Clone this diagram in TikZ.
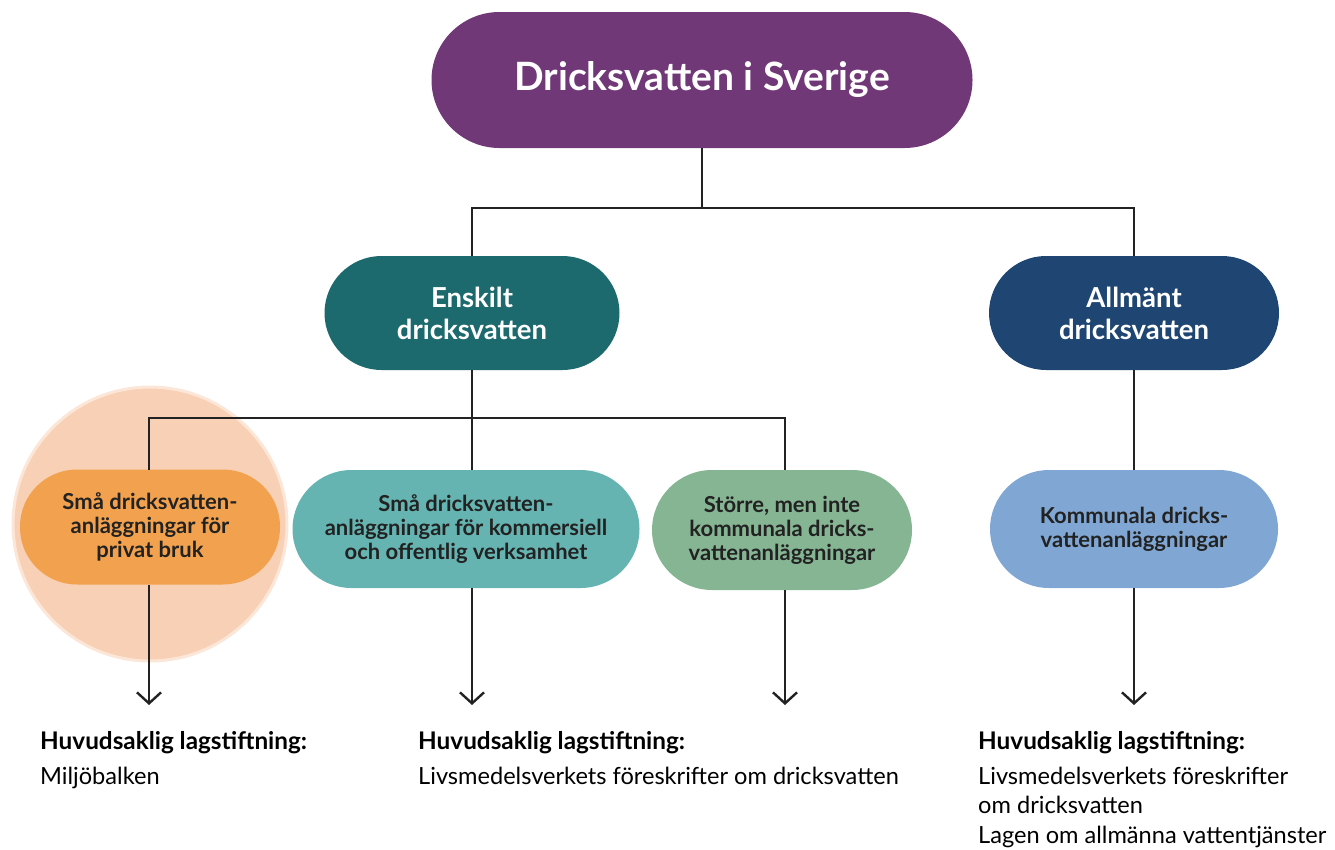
\documentclass[tikz,border=0pt]{standalone}
\usepackage{fontspec}
\setmainfont{Lato}
\usetikzlibrary{arrows.meta}
\definecolor{cTop}{HTML}{713878}
\definecolor{cEnsk}{HTML}{1D6A6E}
\definecolor{cAllm}{HTML}{1F4672}
\definecolor{cOrange}{HTML}{F2A24E}
\definecolor{cTeal}{HTML}{65B4B1}
\definecolor{cGreen}{HTML}{86B594}
\definecolor{cBlue}{HTML}{80A7D4}
\definecolor{cPeach}{HTML}{F8D0B5}
\definecolor{cPeachRim}{HTML}{FCE6D8}
\definecolor{cLine}{HTML}{222222}
\tikzset{
  x=1pt, y=-1pt,
  pill/.style={rectangle, rounded corners=#1, draw=none, align=center, inner sep=0pt},
  darktext/.style={text=cLine, font=\bfseries\fontsize{22}{24}\selectfont},
  conn/.style={draw=cLine, line width=2.4pt},
  arr/.style={conn, -{Straight Barb[length=11pt,width=24pt,line width=2.4pt]}},
  lawhead/.style={anchor=base west, text=black, font=\bfseries\fontsize{24.3}{26}\selectfont, inner sep=0pt},
  lawtext/.style={anchor=base west, text=black, font=\fontsize{23.6}{26}\selectfont, inner sep=0pt, align=left},
}
\begin{document}
\begin{tikzpicture}
\useasboundingbox (0,0) rectangle (1335,849);
% highlight circle
\fill[cPeach, draw=cPeachRim, line width=3pt] (150,524) circle (137);
% nodes
\node[pill=68pt, fill=cTop, minimum width=541pt, minimum height=136pt, text=white, font=\bfseries\fontsize{39}{42}\selectfont] (top) at (702,80) {Dricksvatten i Sverige};
\node[pill=57pt, fill=cEnsk, minimum width=295pt, minimum height=114pt, text=white, font=\bfseries\fontsize{27.5}{32}\selectfont] (ensk) at (472,313) {Enskilt\\dricksvatten};
\node[pill=57pt, fill=cAllm, minimum width=290pt, minimum height=114pt, text=white, font=\bfseries\fontsize{27.5}{32}\selectfont] (allm) at (1134,313) {Allmänt\\dricksvatten};
\node[pill=57pt, fill=cOrange, minimum width=260pt, minimum height=115pt, darktext] (priv) at (150,527) {Små dricksvatten-\\anläggningar för\\privat bruk};
\node[pill=59pt, fill=cTeal, minimum width=347pt, minimum height=118pt, darktext] (komm) at (466,529) {Små dricksvatten-\\anläggningar för kommersiell\\och offentlig verksamhet};
\node[pill=60pt, fill=cGreen, minimum width=260pt, minimum height=120pt, darktext] (stor) at (782,530) {Större, men inte\\kommunala dricks-\\vattenanläggningar};
\node[pill=59pt, fill=cBlue, minimum width=288pt, minimum height=118pt, darktext] (kmun) at (1134,529) {Kommunala dricks-\\vattenanläggningar};
% connector coordinates
\coordinate (j1) at (702,208);
\coordinate (j2) at (472,418);
\coordinate (a1) at (149,705);
\coordinate (a2) at (472,705);
\coordinate (a3) at (785,705);
\coordinate (a4) at (1134,705);
% connectors
\draw[conn] (top.south) -- (j1);
\draw[conn] (j1) -| (ensk.north);
\draw[conn] (j1) -| (allm.north);
\draw[conn] (ensk.south) -- (j2);
\draw[conn] (j2) -| (149,470);
\draw[conn] (j2) -| (785,470);
\draw[conn] (j2) -- (472,470);
\draw[conn] (allm.south) -- (kmun.north);
\draw[arr] (149,585) -- (a1);
\draw[arr] (472,588) -- (a2);
\draw[arr] (785,590) -- (a3);
\draw[arr] (kmun.south) -- (a4);
% law texts
\node[lawhead] (h1) at (40,749) {Huvudsaklig lagstiftning:};
\node[lawtext] (t1) at (40,784) {Miljöbalken};
\node[lawhead] (h2) at (418,749) {Huvudsaklig lagstiftning:};
\node[lawtext] (t2) at (418,784) {Livsmedelsverkets föreskrifter om dricksvatten};
\node[lawhead] (h3) at (978,749) {Huvudsaklig lagstiftning:};
\node[lawtext] (t3) at (978,784) {Livsmedelsverkets föreskrifter};
\node[lawtext] (t4) at (978,813) {om dricksvatten};
\node[lawtext] (t5) at (978,843) {Lagen om allmänna vattentjänster};
\end{tikzpicture}
\end{document}
